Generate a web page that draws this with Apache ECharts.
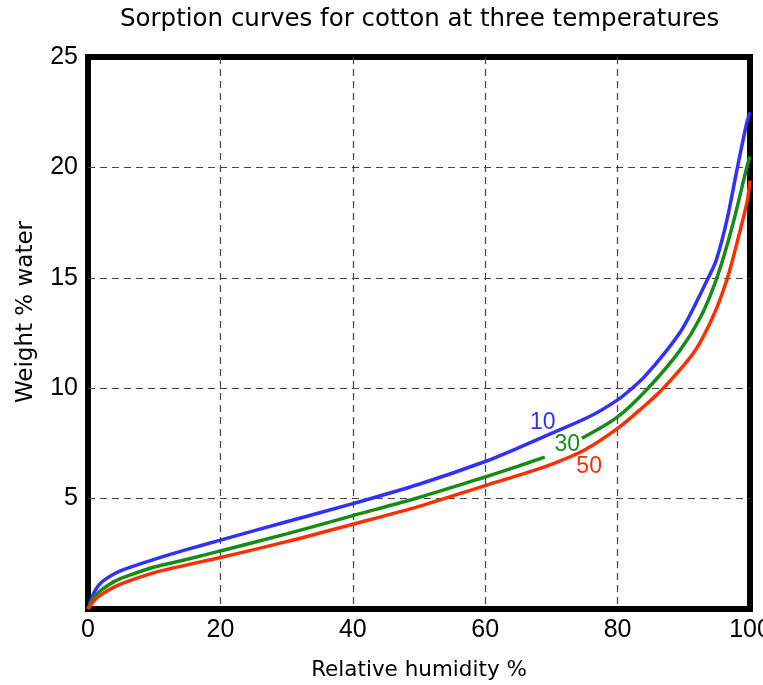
<!DOCTYPE html>
<html>
<head>
<meta charset="utf-8">
<script src="https://cdn.jsdelivr.net/npm/echarts@6/dist/echarts.min.js"></script>
<style>
  html, body { margin: 0; padding: 0; background: #fff; }
  #chart1 { width: 763px; height: 685px; }
</style>
</head>
<body>
<div id="chart1"></div>
<script>
// relative humidity (%) and water uptake (weight %)
var rh10 = [0, 1, 2, 4, 6, 10, 15, 20, 30, 40, 50, 60, 65, 70, 76, 80, 82, 84, 87.4, 90, 93.7, 94.9, 96.5, 98.1, 99.5, 100];
var w10  = [0, 0.8, 1.2, 1.6, 1.85, 2.25, 2.7, 3.12, 3.95, 4.77, 5.65, 6.68, 7.3, 7.95, 8.75, 9.47, 9.95, 10.5, 11.7, 12.8, 15, 15.8, 17.6, 20, 22.0, 22.5];

var rh30 = [0, 1, 2, 4, 6, 10, 15, 20, 30, 40, 50, 60, 65, 69, 71, 74.6, 80, 84.6, 89.4, 92.5, 95, 97.3, 99.6, 100];
var w30  = [0, 0.55, 0.85, 1.25, 1.5, 1.9, 2.25, 2.63, 3.4, 4.23, 5.05, 5.98, 6.47, 6.88, null, 7.73, 8.7, 10, 11.7, 13.2, 15, 17.3, 20.1, 20.5];

var rh50 = [0, 1, 2, 4, 6, 10, 15, 20, 30, 40, 50, 60, 65, 70, 75, 80, 83.5, 86.9, 91.7, 94.5, 96.6, 98.3, 99.6, 100];
var w50  = [0, 0.4, 0.65, 1.0, 1.25, 1.65, 2.0, 2.33, 3.05, 3.84, 4.65, 5.59, 6.05, 6.55, 7.2, 8.18, 9.05, 10, 11.7, 13.3, 15, 16.9, 18.5, 19.4];

var names = ['10', '30', '50'];
var colors = ['#3030ff', '#168c16', '#ff2e00'];
// where each temperature label sits, in data units
var labelAt = [[68.7, 8.42], [72.4, 7.45], [75.7, 6.44]];

var FONT = 'Liberation Sans, Arial, sans-serif';
var WIDE = 'DejaVu Sans, sans-serif';

var pairs = function (xs, ys) {
    var out = [];
    for (var i = 0; i < xs.length; i++) {
        out.push([xs[i], ys[i]]);
    }
    return out;
};

var allData = [pairs(rh10, w10), pairs(rh30, w30), pairs(rh50, w50)];

var series = [];
for (var k = 0; k < names.length; k++) {
    series.push({
        name: names[k],
        type: 'line',
        data: allData[k],
        smooth: 0.3,
        showSymbol: false,
        connectNulls: false,
        clip: true,
        lineStyle: { color: colors[k], width: 3.5 },
        markPoint: {
            symbol: 'circle',
            symbolSize: 0,
            data: [{ coord: labelAt[k], value: names[k] }],
            label: {
                show: true,
                position: 'inside',
                formatter: names[k],
                color: colors[k],
                fontSize: 23,
                fontFamily: FONT
            }
        }
    });
}

var myChart = echarts.init(document.getElementById('chart1'));
var option = {
    animation: false,
    backgroundColor: '#fff',
    title: {
        text: 'Sorption curves for cotton at three temperatures',
        left: 115,
        top: 2,
        textStyle: { fontSize: 24.5, fontWeight: 'normal', color: '#000', fontFamily: WIDE }
    },
    grid: {
        left: 88, right: 13, top: 57, bottom: 76,
        outerBoundsMode: 'none',
        containLabel: false,
        show: true,
        borderColor: '#000',
        borderWidth: 6,
        backgroundColor: 'transparent'
    },
    xAxis: {
        type: 'value',
        min: 0, max: 100, interval: 20,
        name: 'Relative humidity %',
        nameLocation: 'middle',
        nameGap: 50,
        nameTextStyle: { fontSize: 21.5, color: '#000', fontFamily: WIDE },
        axisLine: { show: false },
        axisTick: { show: false },
        axisLabel: { fontSize: 25, color: '#000', margin: 9, fontFamily: FONT },
        splitLine: { show: true, showMinLine: false, showMaxLine: false, lineStyle: { color: '#444', width: 1.2, type: [7, 5] } }
    },
    yAxis: {
        type: 'value',
        min: 0, max: 25, interval: 5,
        name: 'Weight % water',
        nameLocation: 'middle',
        nameGap: 50,
        nameTextStyle: { fontSize: 23, color: '#000', fontFamily: WIDE, padding: [0, 0, 0, 42] },
        axisLine: { show: false },
        axisTick: { show: false },
        axisLabel: {
            fontSize: 25, color: '#000', margin: 10,
            fontFamily: FONT,
            formatter: function (v) { return v === 0 ? '' : v; }
        },
        splitLine: { show: true, showMinLine: false, showMaxLine: false, lineStyle: { color: '#444', width: 1.2, type: [7, 5] } }
    },
    series: series
};
myChart.setOption(option);
</script>
</body>
</html>
